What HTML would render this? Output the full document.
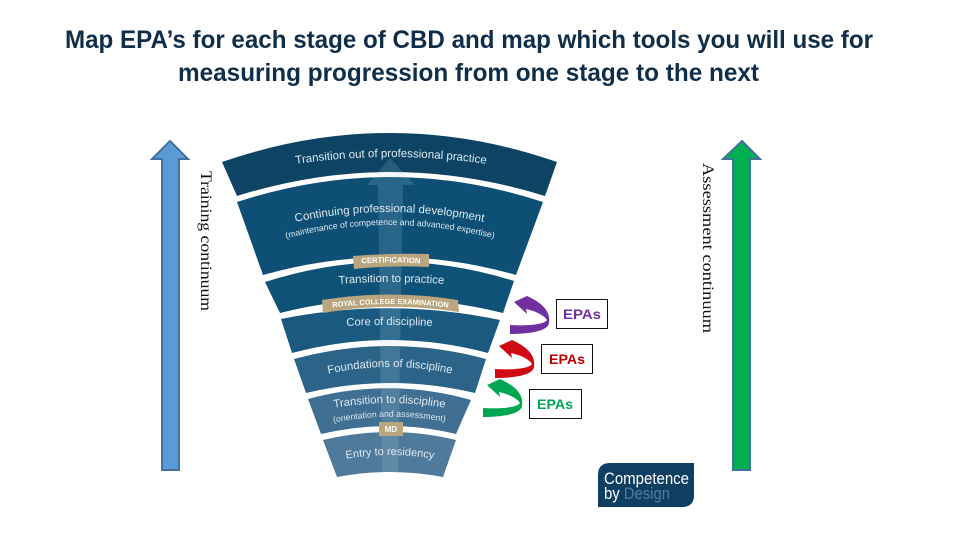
<!DOCTYPE html>
<html><head><meta charset="utf-8"><style>
html,body{margin:0;padding:0;background:#fff;width:960px;height:540px;overflow:hidden}
svg{display:block}
text{font-family:"Liberation Sans",sans-serif}
.w{fill:#dfe9f0;text-anchor:middle}
.b{fill:#fff;font-weight:bold;text-anchor:middle}
</style></head><body>
<svg width="960" height="540" viewBox="0 0 960 540" xmlns="http://www.w3.org/2000/svg">
<defs>
<path id="p1" d="M235 176L295 164Q390 150 487 164L547 176"/>
<path id="p2" d="M235 238L295 222Q390 202 484 222L544 238"/>
<path id="p3" d="M224 258L284 239Q390 211 496 239L556 258"/>
<path id="p4" d="M279 288L339 284Q390 280 444 284L504 288"/>
<path id="p5" d="M269 318L329 308Q390 300 452 308L512 318"/>
<path id="p6" d="M286 328L346 326Q390 324 433 326L493 328"/>
<path id="p7" d="M267 388L327 374Q390 360 453 374L513 388"/>
<path id="p8" d="M273 418L333 408Q390 398 446 408L506 418"/>
<path id="p9" d="M273 436L333 423Q390 411 446 422L506 434"/>
<path id="p10" d="M285 469L345 459Q390 451 435 459L495 469"/>
<path id="p11" d="M294 268L354 264Q390 261 428 264L488 268"/>
</defs>
<text x="469" y="48" font-size="25" font-weight="bold" fill="#0f2e4a" text-anchor="middle" textLength="808" lengthAdjust="spacingAndGlyphs">Map EPA’s for each stage of CBD and map which tools you will use for</text>
<text x="468.500" y="81" font-size="25" font-weight="bold" fill="#0f2e4a" text-anchor="middle" textLength="581" lengthAdjust="spacingAndGlyphs">measuring progression from one stage to the next</text>

<path d="M170 141L188 159H179V470H162V159H152Z" fill="#5b9bd5" stroke="#41719c" stroke-width="2"/>
<path d="M742 141L760 159H750V470H733V159H723Z" fill="#00b050" stroke="#41719c" stroke-width="2"/>

<text transform="translate(201,171) rotate(90)" font-size="16" style="font-family:'Liberation Serif',serif" fill="#111" textLength="140" lengthAdjust="spacingAndGlyphs">Training continuum</text>
<text transform="translate(703,163) rotate(90)" font-size="16" style="font-family:'Liberation Serif',serif" fill="#111" textLength="170" lengthAdjust="spacingAndGlyphs">Assessment continuum</text>

<path d="M222 162Q390 104 557 162L545 196Q390 148 237 196Z" fill="#0d4464"/>
<path d="M237 202Q390 152 543 202L516 275Q390 239 263 275Z" fill="#0d4f75"/>
<path d="M265 282Q390 242 514 281L503 313Q390 285 280 313Z" fill="#0f5278"/>
<path d="M281 319Q390 297 500 320L488 353Q390 327 292 353Z" fill="#1a5a80"/>
<path d="M294 359Q390 333 486 359L475 393Q390 373 306 393Z" fill="#2c6489"/>
<path d="M308 399Q390 377 471 400L456 434Q390 418 321 434Z" fill="#3f6f93"/>
<path d="M323 440Q390 424 456 440L443 477Q390 467 337 477Z" fill="#4f7a9c"/>

<path d="M390 158L415 185H403L398 472H382L378 185H367Z" fill="#b8d4e6" opacity=".17"/>

<path d="M353 256Q390 253 429 254V267Q390 265 354 269Z" fill="#b9a67e"/>
<path d="M322 300Q390 289 458 300L459 312Q390 301 323 313Z" fill="#b9a67e"/>
<rect x="379" y="422" width="24" height="14" fill="#b9a67e"/>

<text class="w" font-size="11.500"><textPath href="#p1" startOffset="50%">Transition out of professional practice</textPath></text>
<text class="w" font-size="11.500"><textPath href="#p2" startOffset="50%">Continuing professional development</textPath></text>
<text class="w" font-size="8.700"><textPath href="#p3" startOffset="50%">(maintenance of competence and advanced expertise)</textPath></text>
<text class="b" font-size="7.700"><textPath href="#p11" startOffset="50%">CERTIFICATION</textPath></text>
<text class="w" font-size="11.400"><textPath href="#p4" startOffset="50%">Transition to practice</textPath></text>
<text class="b" font-size="7.400"><textPath href="#p5" startOffset="50%">ROYAL COLLEGE EXAMINATION</textPath></text>
<text class="w" font-size="11.200"><textPath href="#p6" startOffset="50%">Core of discipline</textPath></text>
<text class="w" font-size="11.300"><textPath href="#p7" startOffset="50%">Foundations of discipline</textPath></text>
<text class="w" font-size="11.300"><textPath href="#p8" startOffset="50%">Transition to discipline</textPath></text>
<text class="w" font-size="8.700"><textPath href="#p9" startOffset="50%">(orientation and assessment)</textPath></text>
<text class="b" x="391" y="432" font-size="8">MD</text>
<text class="w" font-size="11"><textPath href="#p10" startOffset="50%">Entry to residency</textPath></text>

<path d="M527 296C540 302 551 310 549 323C548 331 530 334 510 334L510 325C525 326 544 325 547 320C544 315 535 311 526 309L527 314L514 302Z" fill="#7030a0"/>
<path transform="translate(-15,44)" d="M527 296C540 302 551 310 549 323C548 331 530 334 510 334L510 325C525 326 544 325 547 320C544 315 535 311 526 309L527 314L514 302Z" fill="#d00a12"/>
<path transform="translate(-27,83)" d="M527 296C540 302 551 310 549 323C548 331 530 334 510 334L510 325C525 326 544 325 547 320C544 315 535 311 526 309L527 314L514 302Z" fill="#00a651"/>

<rect x="556.500" y="299.500" width="51" height="29" fill="#fff" stroke="#111"/>
<rect x="541.500" y="344.500" width="51" height="29" fill="#fff" stroke="#111"/>
<rect x="529.500" y="389.500" width="52" height="29" fill="#fff" stroke="#111"/>
<text x="582" y="319" font-size="14" font-weight="bold" fill="#7030a0" text-anchor="middle" textLength="38" lengthAdjust="spacingAndGlyphs">EPAs</text>
<text x="567" y="364" font-size="14" font-weight="bold" fill="#c00000" text-anchor="middle" textLength="36" lengthAdjust="spacingAndGlyphs">EPAs</text>
<text x="555" y="409" font-size="14" font-weight="bold" fill="#00a651" text-anchor="middle" textLength="36" lengthAdjust="spacingAndGlyphs">EPAs</text>

<path d="M610 463H694V495Q694 507 682 507H598V475Q598 463 610 463Z" fill="#0e3f63"/>
<text x="604" y="484" font-size="17" fill="#fff" textLength="85" lengthAdjust="spacingAndGlyphs">Competence</text>
<text x="604" y="499" font-size="17" fill="#fff" textLength="66" lengthAdjust="spacingAndGlyphs">by <tspan fill="#4d7ca3">Design</tspan></text>
</svg>
</body></html>
